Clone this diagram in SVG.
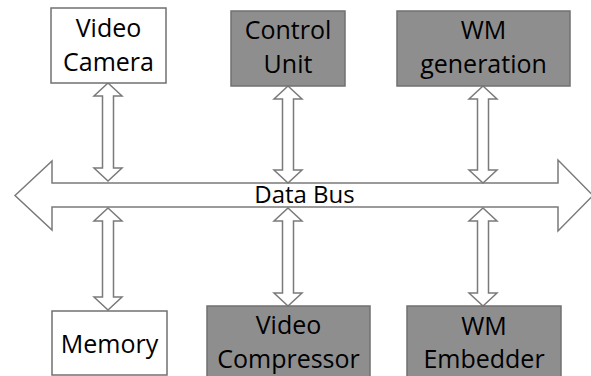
<svg xmlns="http://www.w3.org/2000/svg" width="591" height="376" viewBox="0 0 591 376">
  <style>
    .box { stroke: #707070; stroke-width: 1.5; }
    .plain { fill: #ffffff; }
    .shaded { fill: #8e8e8e; }
    .arrow { fill: #ffffff; stroke: #7a7a7a; stroke-width: 1.5; stroke-linejoin: miter; }
    text { font-family: "Open Sans", "Liberation Sans", sans-serif; font-size: 25px; fill: #000000; text-anchor: middle; }
  </style>
  <rect width="591" height="376" fill="#ffffff"/>

  <g id="connectors">
    <!-- data bus: wide double-headed arrow -->
    <path id="data-bus" class="arrow" d="M15,195.5 L52,161 L52,183 L558,183 L558,160 L593,195.5 L558,231 L558,207 L52,207 L52,230 Z"/>
    <text x="304.5" y="203" style="font-size:24px">Data Bus</text>
    <!-- upper links -->
    <path class="arrow" d="M108,83 L122,96 L113.5,96 L113.5,168 L122,168 L108,181 L94,168 L102.5,168 L102.5,96 L94,96 Z"/>
    <path class="arrow" d="M288,86 L302,99 L293.5,99 L293.5,170 L302,170 L288,183 L274,170 L282.5,170 L282.5,99 L274,99 Z"/>
    <path class="arrow" d="M483,86 L497,99 L488.5,99 L488.5,170 L497,170 L483,183 L469,170 L477.5,170 L477.5,99 L469,99 Z"/>
    <!-- lower links -->
    <path class="arrow" d="M108,208 L122,221 L113.5,221 L113.5,297 L122,297 L108,310 L94,297 L102.5,297 L102.5,221 L94,221 Z"/>
    <path class="arrow" d="M288,208 L302,221 L293.5,221 L293.5,293 L302,293 L288,306 L274,293 L282.5,293 L282.5,221 L274,221 Z"/>
    <path class="arrow" d="M483,208 L497,221 L488.5,221 L488.5,293 L497,293 L483,306 L469,293 L477.5,293 L477.5,221 L469,221 Z"/>
  </g>

  <g id="video-camera">
    <rect class="box plain" x="51" y="8" width="115" height="75"/>
    <text x="108.5" y="37">Video</text>
    <text x="108.5" y="71">Camera</text>
  </g>
  <g id="control-unit">
    <rect class="box shaded" x="231" y="11" width="114" height="75"/>
    <text x="288" y="39">Control</text>
    <text x="288" y="73">Unit</text>
  </g>
  <g id="wm-generation">
    <rect class="box shaded" x="397" y="11" width="173" height="75"/>
    <text x="483.5" y="39">WM</text>
    <text x="483.5" y="73">generation</text>
  </g>
  <g id="memory">
    <rect class="box plain" x="52" y="311" width="115" height="64"/>
    <text x="109.5" y="353">Memory</text>
  </g>
  <g id="video-compressor">
    <rect class="box shaded" x="207" y="306" width="163" height="75"/>
    <text x="288.5" y="334">Video</text>
    <text x="288.5" y="368">Compressor</text>
  </g>
  <g id="wm-embedder">
    <rect class="box shaded" x="407" y="306" width="154" height="75"/>
    <text x="484" y="335">WM</text>
    <text x="484" y="368">Embedder</text>
  </g>
</svg>
